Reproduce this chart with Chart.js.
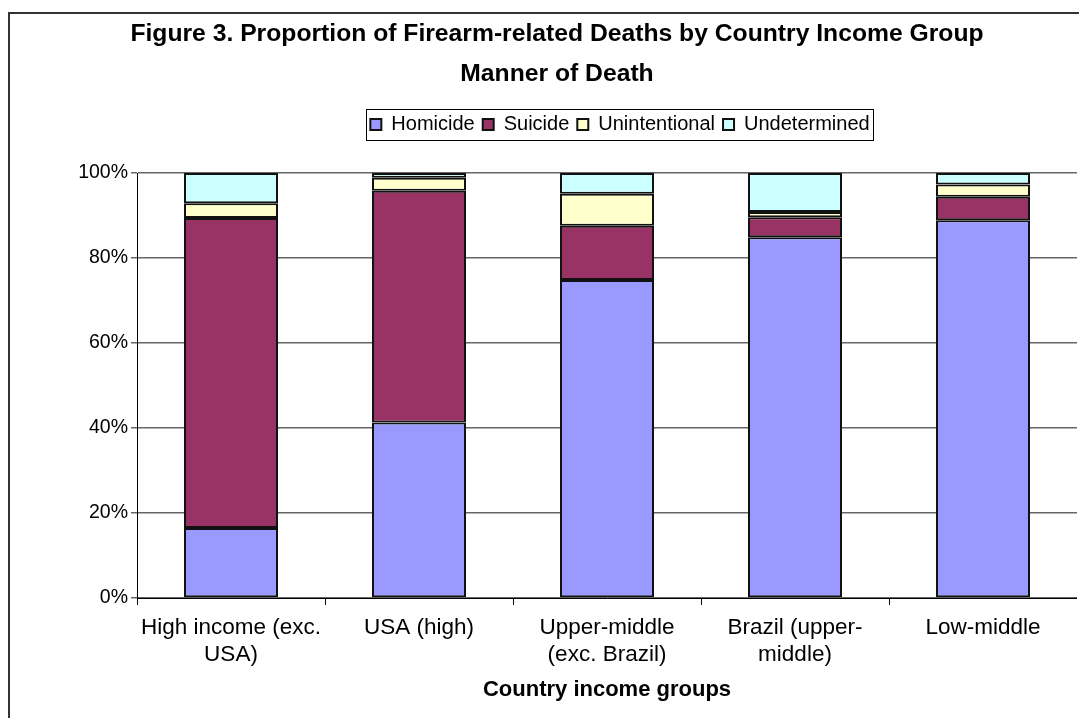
<!DOCTYPE html>
<html>
<head>
<meta charset="utf-8">
<script src="https://cdn.jsdelivr.net/npm/chart.js@4"></script>
<style>
  html, body { margin: 0; padding: 0; background: #fff; overflow: hidden; }
  .frame { position: absolute; left: 8px; top: 12px; width: 2000px; height: 2000px; border-left: 2px solid #333; border-top: 2px solid #333; }
  .wrap { position: absolute; left: 10px; top: 14px; width: 1067px; height: 704px; }
</style>
</head>
<body>
<div class="frame"></div>
<div class="wrap"><canvas id="chart"></canvas></div>
<script>
// Data (percent of firearm deaths per group)
const groups = [
    ['High income (exc.', 'USA)'],
    'USA (high)',
    ['Upper-middle', '(exc. Brazil)'],
    ['Brazil (upper-', 'middle)'],
    'Low-middle'
];
const homicide = [16.5, 41.3, 74.8, 84.9, 88.9];
const suicide = [72.9, 54.5, 12.8, 4.7, 5.5];
const unintentional = [3.5, 3.1, 7.5, 1.2, 2.9];
const undetermined = [7.1, 1.1, 4.9, 9.2, 2.7];
const yTicks = [0, 20, 40, 60, 80, 100];

const FONT = "'Liberation Sans', Arial, sans-serif";

// move the legend to where Excel put it and draw its frame
const legendFix = {
    id: 'legendFix',
    afterLayout(chart) {
        const lg = chart.legend;
        lg.left += 63; lg.right += 63;
        lg.top -= 28.5; lg.bottom -= 28.5;
    },
    afterDraw(chart) {
        const boxes = chart.legend.legendHitBoxes;
        if (!boxes || !boxes.length) return;
        const x0 = Math.min(...boxes.map(b => b.left)) - 4;
        const x1 = Math.max(...boxes.map(b => b.left + b.width)) + 4;
        const y0 = boxes[0].top - 5.5;
        const y1 = boxes[0].top + boxes[0].height + 5.5;
        const ctx = chart.ctx;
        ctx.save();
        ctx.strokeStyle = '#000';
        ctx.lineWidth = 1;
        ctx.strokeRect(Math.round(x0) + 0.5, Math.round(y0) + 0.5, Math.round(x1 - x0), Math.round(y1 - y0));
        ctx.restore();
    }
};

const mk = (label, data, color) => ({
    label, data, backgroundColor: color,
    borderColor: '#111', borderWidth: 2, borderSkipped: false,
    barPercentage: 0.5, categoryPercentage: 1.0
});

new Chart(document.getElementById('chart'), {
    type: 'bar',
    data: {
        labels: groups,
        datasets: [
            mk('Homicide', homicide, '#9999FF'),
            mk('Suicide', suicide, '#993366'),
            mk('Unintentional', unintentional, '#FFFFCC'),
            mk('Undetermined', undetermined, '#CCFFFF')
        ]
    },
    options: {
        responsive: true,
        maintainAspectRatio: false,
        animation: false,
        layout: { padding: { left: 27, right: 0, top: 0, bottom: 0 } },
        plugins: {
            title: {
                display: true,
                text: ['Figure 3. Proportion of Firearm-related Deaths by Country Income Group', 'Manner of Death'],
                color: '#000',
                font: { family: FONT, size: 24.7, weight: 'bold', lineHeight: '40px' },
                padding: { top: 0, bottom: 41 }
            },
            legend: {
                display: true,
                position: 'top',
                labels: {
                    color: '#000',
                    font: { family: FONT, size: 20 },
                    boxWidth: 11, boxHeight: 11,
                    padding: 8
                }
            },
            tooltip: { enabled: false }
        },
        scales: {
            x: {
                stacked: true,
                afterFit: s => { s.height = 120; },
                grid: { display: true, drawOnChartArea: false, drawTicks: true, tickLength: 7, color: '#000', offset: true },
                border: { color: '#000', width: 1 },
                ticks: { color: '#000', font: { family: FONT, size: 22.5, lineHeight: '27px' }, padding: 9.5, maxRotation: 0 },
                title: {
                    display: true, text: 'Country income groups', color: '#000',
                    font: { family: FONT, size: 22, weight: 'bold' },
                    padding: { top: 0, bottom: 15 }
                }
            },
            y: {
                stacked: true,
                min: 0, max: 100,
                afterFit: s => { s.width = 100; },
                afterBuildTicks: s => { s.ticks = yTicks.map(v => ({ value: v })); },
                grid: { color: '#666', lineWidth: 1.5, tickLength: 6 },
                border: { color: '#000', width: 1 },
                ticks: { color: '#000', font: { family: FONT, size: 19.5 }, padding: 3, callback: v => v + '%' }
            }
        }
    },
    plugins: [legendFix]
});
</script>
</body>
</html>
